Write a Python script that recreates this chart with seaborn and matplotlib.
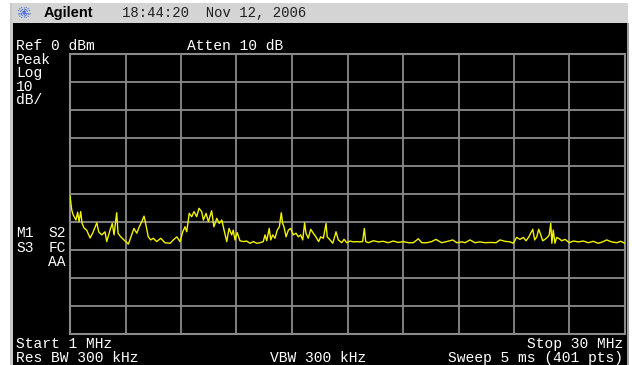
import matplotlib
matplotlib.use("Agg")
import matplotlib.pyplot as plt
import matplotlib.patches as mpatches
import matplotlib.lines as mlines
import numpy as np
import pandas as pd
import seaborn as sns

# Swept spectrum trace, 1-30 MHz, levels in dBm
freq_mhz = [
    1.00, 1.09, 1.17, 1.31, 1.40, 1.47, 1.56, 1.63, 1.73, 1.87,
    2.05, 2.19, 2.40, 2.50, 2.66, 2.83, 2.92, 3.09, 3.21, 3.30,
    3.44, 3.51, 3.65, 3.82, 4.05, 4.22, 4.34, 4.49, 4.62, 4.75,
    4.87, 4.97, 5.09, 5.22, 5.35, 5.53, 5.74, 5.96, 6.23, 6.40,
    6.58, 6.75, 6.89, 7.01, 7.10, 7.23, 7.36, 7.48, 7.62, 7.74,
    7.88, 7.97, 8.11, 8.23, 8.40, 8.52, 8.67, 8.80, 8.93, 9.05,
    9.19, 9.31, 9.45, 9.53, 9.62, 9.74, 9.88, 10.06, 10.23, 10.41,
    10.58, 10.76, 10.93, 11.10, 11.19, 11.28, 11.41, 11.49, 11.59, 11.71,
    11.83, 11.94, 12.04, 12.11, 12.18, 12.29, 12.41, 12.53, 12.67, 12.81,
    12.93, 13.05, 13.16, 13.26, 13.33, 13.45, 13.58, 13.71, 13.85, 13.99,
    14.10, 14.24, 14.38, 14.44, 14.59, 14.73, 14.90, 15.02, 15.20, 15.32,
    15.46, 15.63, 15.80, 15.98, 16.15, 16.29, 16.38, 16.45, 16.59, 16.85,
    17.11, 17.37, 17.63, 17.89, 18.15, 18.42, 18.68, 18.94, 19.20, 19.38,
    19.64, 19.90, 20.12, 20.24, 20.42, 20.68, 21.00, 21.21, 21.47, 21.64,
    21.90, 22.16, 22.42, 22.68, 22.95, 23.26, 23.47, 23.73, 23.99, 24.16,
    24.34, 24.51, 24.69, 24.83, 24.98, 25.07, 25.18, 25.28, 25.39, 25.49,
    25.60, 25.70, 25.82, 25.94, 26.04, 26.12, 26.18, 26.25, 26.34, 26.43,
    26.57, 26.69, 26.87, 27.09, 27.30, 27.56, 27.82, 28.08, 28.34, 28.60,
    28.83, 29.04, 29.30, 29.57, 29.77, 30.00,
]
level_dbm = [
    -50.7, -55.7, -57.5, -59.3, -56.5, -59.9, -56.3, -60.4, -62.1, -62.9,
    -65.7, -63.9, -60.3, -63.5, -64.6, -63.5, -67.0, -62.9, -60.5, -64.6,
    -56.7, -64.0, -65.3, -66.4, -67.9, -64.6, -62.3, -64.0, -61.7, -59.9,
    -57.9, -61.1, -65.3, -66.4, -65.8, -67.0, -65.8, -67.4, -67.6, -66.4,
    -65.3, -67.0, -63.5, -61.7, -63.5, -56.9, -58.1, -56.3, -58.1, -55.1,
    -56.3, -59.3, -56.9, -59.9, -56.0, -61.7, -58.7, -60.5, -59.3, -62.9,
    -67.0, -62.3, -64.6, -62.9, -66.4, -63.8, -66.7, -67.0, -66.8, -67.6,
    -67.0, -67.6, -67.4, -67.0, -64.6, -66.7, -62.3, -66.4, -64.6, -65.8,
    -62.9, -61.7, -56.7, -60.5, -61.7, -65.3, -62.9, -62.3, -64.6, -64.0,
    -65.3, -64.6, -66.4, -60.3, -64.0, -65.8, -62.6, -64.0, -65.3, -67.0,
    -65.3, -65.8, -60.5, -65.3, -66.4, -67.6, -63.5, -66.4, -67.4, -66.2,
    -67.4, -66.8, -67.1, -67.0, -67.1, -67.0, -62.3, -67.0, -67.4, -66.7,
    -67.1, -66.9, -67.4, -66.8, -67.3, -67.0, -67.4, -67.4, -66.0, -67.4,
    -67.4, -67.0, -66.2, -66.7, -67.4, -67.0, -66.4, -67.4, -67.1, -67.4,
    -66.4, -67.4, -67.1, -67.4, -67.3, -67.4, -66.4, -66.9, -67.1, -67.6,
    -65.5, -66.2, -65.5, -66.7, -65.3, -64.0, -62.6, -66.4, -65.3, -62.6,
    -64.6, -66.7, -66.2, -65.5, -64.6, -60.5, -67.6, -62.9, -67.6, -65.5,
    -66.0, -66.7, -66.2, -67.4, -66.8, -67.1, -66.8, -67.4, -66.9, -67.6,
    -67.1, -66.4, -67.1, -67.4, -66.9, -67.6,
]

# Display settings
ref_level = 0
db_per_div = 10
start_mhz = 1
stop_mhz = 30

W, H = 632, 365
sns.set_theme(style="dark")
plt.rcParams["font.family"] = ["Liberation Mono", "DejaVu Sans Mono"]

fig = plt.figure(figsize=(W / 100, H / 100), dpi=100, facecolor="white")


def fx(px):
    return px / W


def fy(py):
    return 1 - py / H


def panel(x0, y0, x1, y1, color):
    fig.patches.append(mpatches.Rectangle((fx(x0), fy(y1)), fx(x1) - fx(x0), fy(y0) - fy(y1),
                                          transform=fig.transFigure, facecolor=color,
                                          edgecolor="none", zorder=-10))


# instrument screen frame
panel(10, 3, 13, 365, "#c8c8c8")
panel(12, 3, 628, 22.5, "#d4d4d4")
panel(13, 23, 627, 365, "black")
panel(627, 22.5, 628.5, 365, "#a0a0a0")

# logo spark
cx, cy = 24, 12.5
for ang in np.arange(0, 180, 22.5):
    dx = 6.5 * np.cos(np.radians(ang))
    dy = 6.5 * np.sin(np.radians(ang))
    fig.lines.append(mlines.Line2D([fx(cx - dx), fx(cx + dx)], [fy(cy - dy * 0.9), fy(cy + dy * 0.9)],
                                   transform=fig.transFigure, color="#4a6fd8", lw=0.8,
                                   linestyle=(0, (1, 1))))
fig.text(fx(44), fy(12.5), "Agilent", family="Liberation Sans", weight="bold", fontsize=10.5,
         color="black", va="center", ha="left")
fig.text(fx(122), fy(12.5), "18:44:20  Nov 12, 2006", fontsize=10, color="#202020",
         va="center", ha="left")

# graticule
ax = fig.add_axes([fx(70), fy(334), fx(555), fy(54) - fy(334)])
ax.set_zorder(1)
ax.set_facecolor("black")
df = pd.DataFrame({"freq": freq_mhz, "level": level_dbm})
sns.lineplot(data=df, x="freq", y="level", ax=ax, color="#f2f200", lw=1.0, zorder=3)

ax.set_xlim(start_mhz, stop_mhz)
ax.set_ylim(ref_level - 10 * db_per_div, ref_level)
ax.set_xticks(np.linspace(start_mhz, stop_mhz, 11))
ax.set_yticks(np.arange(ref_level - 10 * db_per_div, ref_level + 1, db_per_div))
ax.grid(True, color="#8a8a8a", lw=1.3)
ax.tick_params(length=0, labelbottom=False, labelleft=False)
ax.set_xlabel("")
ax.set_ylabel("")
for sp in ax.spines.values():
    sp.set_visible(True)
    sp.set_color("#8a8a8a")
    sp.set_linewidth(1.5)

# annotations
txt = dict(color="white", fontsize=10.5, va="center")
fig.text(fx(16), fy(46), f"Ref {ref_level} dBm", ha="left", **txt)
fig.text(fx(187), fy(46), "Atten 10 dB", ha="left", **txt)
fig.text(fx(16), fy(60), "Peak", ha="left", **txt)
fig.text(fx(16), fy(73), "Log", ha="left", **txt)
fig.text(fx(16), fy(87), f"{db_per_div}", ha="left", **txt)
fig.text(fx(16), fy(100), "dB/", ha="left", **txt)
fig.text(fx(16), fy(233), "M1", ha="left", **txt)
fig.text(fx(66), fy(233), "S2", ha="right", **txt)
fig.text(fx(16), fy(248), "S3", ha="left", **txt)
fig.text(fx(66), fy(248), "FC", ha="right", **txt)
fig.text(fx(66), fy(262), "AA", ha="right", **txt)
fig.text(fx(16), fy(344), f"Start {start_mhz} MHz", ha="left", **txt)
fig.text(fx(623), fy(344), f"Stop {stop_mhz} MHz", ha="right", **txt)
fig.text(fx(16), fy(358), "Res BW 300 kHz", ha="left", **txt)
fig.text(fx(270), fy(358), "VBW 300 kHz", ha="left", **txt)
fig.text(fx(623), fy(358), "Sweep 5 ms (401 pts)", ha="right", **txt)

fig.savefig("out.png", dpi=100, facecolor="white")
